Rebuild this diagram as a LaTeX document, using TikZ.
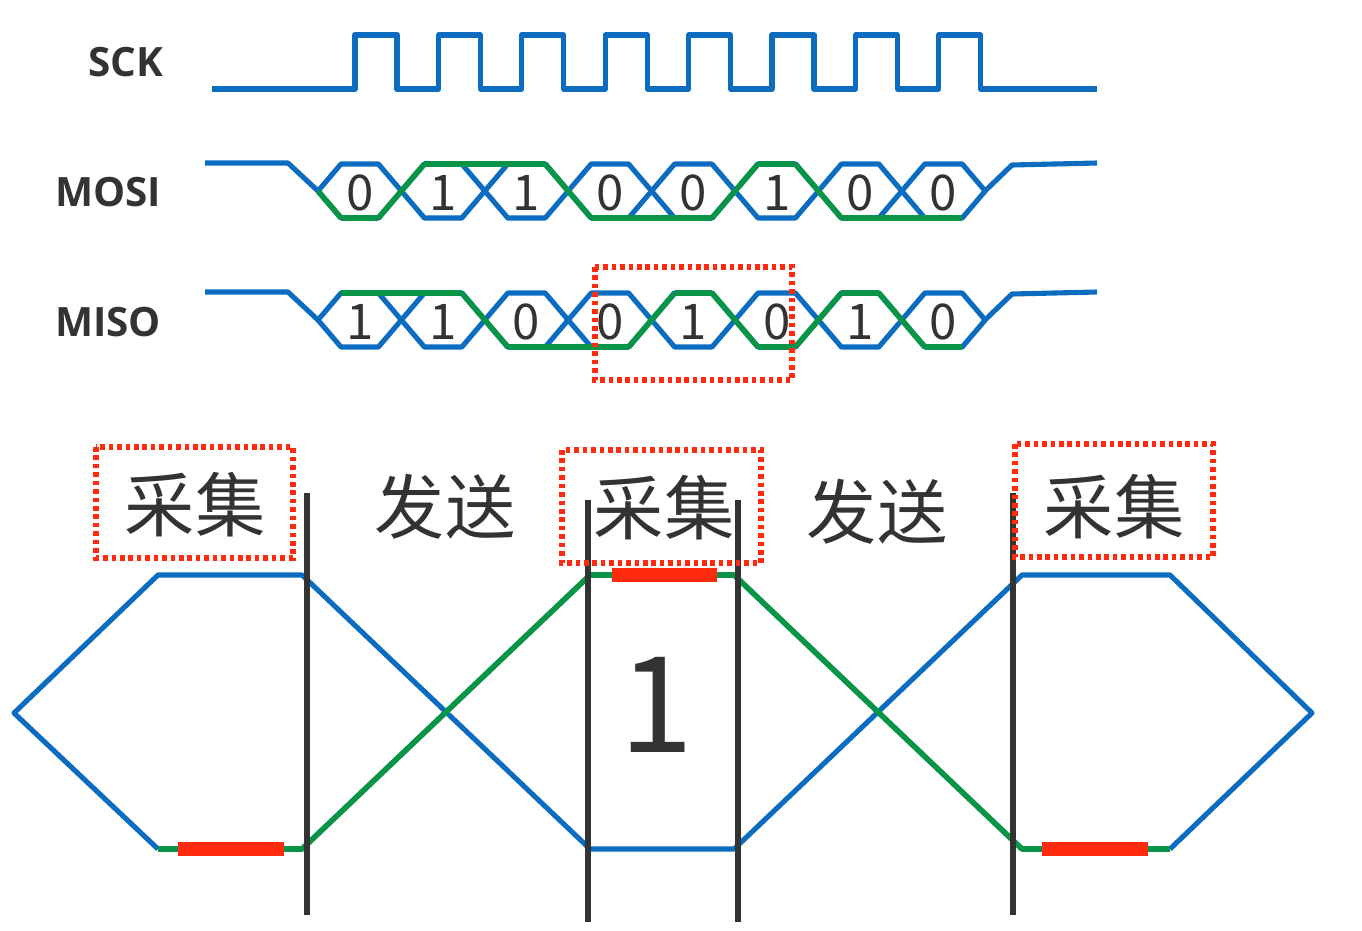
\documentclass[tikz,border=0pt]{standalone}
\usepackage{fontspec}
\setmainfont{Open Sans}
\newfontfamily\cjk{Noto Sans CJK SC}
\definecolor{wblue}{HTML}{0B6CC0}
\definecolor{wgreen}{HTML}{0A9448}
\definecolor{wred}{HTML}{FF2A10}
\definecolor{wgray}{HTML}{333333}
\tikzset{
  blue wave/.style={draw=wblue,line width=2.9pt,line join=round},
  green wave/.style={draw=wgreen,line width=3.2pt,line join=round},
  hold bar/.style={draw=wred,line width=7.5pt},
  sample box/.style={draw=wred,line width=3.2pt,dash pattern=on 2.6pt off 2.2pt},
  bar line/.style={draw=wgray,line width=3.2pt},
  sig label/.style={font=\bfseries\fontsize{23}{23}\selectfont,text=wgray},
  bit label/.style={font=\cjk\fontsize{28}{28}\selectfont,text=wgray},
  phase label/.style={font=\cjk\fontsize{40}{40}\selectfont,text=wgray}
}
% one data line: mid y, green start point, list of bits
\newcommand\datarow[3]{
  \foreach \b [count=\i from 0] in {#3} {
    \pgfmathsetmacro\cx{318+83.4*\i}
    \draw[blue wave] (\cx,#1) -- (\cx+23,#1-27) -- (\cx+60.4,#1-27) -- (\cx+83.4,#1)
      -- (\cx+60.4,#1+27) -- (\cx+23,#1+27) -- cycle;
  }
  \draw[blue wave] (205,#1-28) -- (288,#1-28) -- (318,#1);
  \draw[blue wave] (985,#1) -- (1012,#1-26) -- (1097,#1-28);
  \foreach \b [count=\i from 0, remember=\b as \p (initially 2)] in {#3} {
    \pgfmathsetmacro\cx{318+83.4*\i}
    \pgfmathsetmacro\lv{#1+27-54*\b}
    \ifnum\p<2
      \pgfmathsetmacro\lp{#1+27-54*\p}
      \draw[green wave] (\cx-23,\lp) -- (\cx+23,\lv);
    \else
      \draw[green wave] #2 -- (\cx+23,\lv);
    \fi
    \draw[green wave] (\cx+23,\lv) -- (\cx+60.4,\lv);
    \node[bit label] at (\cx+41.7,#1+2) {\b};
  }
}

\begin{document}
\begin{tikzpicture}[x=0.02cm,y=-0.02cm]
  \useasboundingbox (0,0) rectangle (1362,930);

  % signal names
  \node[sig label] (sck)  at (126,62)  {SCK};
  \node[sig label] (mosi) at (108,192) {MOSI};
  \node[sig label] (miso) at (108,322) {MISO};

  % clock
  \draw[blue wave] (212,89) -- (355,89)
    \foreach \k in {0,...,7} { -- (355+83.4*\k,89) -- (355+83.4*\k,35) -- (397+83.4*\k,35) -- (397+83.4*\k,89) }
    -- (1097,89);

  \datarow{191}{(318,191)}{0,1,1,0,0,1,0,0}
  \datarow{320}{(341,293)}{1,1,0,0,1,0,1,0}

  \draw[sample box] (595,267) rectangle (792,380);

  % enlarged eye
  \draw[blue wave] (158,849) -- (14,713) -- (158,575) -- (302,575) -- (590,849) -- (734,849)
    -- (1022,575) -- (1170,575) -- (1312,713) -- (1170,849);
  \draw[green wave] (158,849) -- (302,849) -- (590,575) -- (734,575) -- (1022,849) -- (1170,849);
  \draw[hold bar] (178,849) -- (284,849);
  \draw[hold bar] (612,575) -- (717,575);
  \draw[hold bar] (1042,849) -- (1148,849);

  \foreach \x/\t/\b in {307/493/915, 588/500/922, 738/500/922, 1013/493/915}
    \draw[bar line] (\x,\t) -- (\x,\b);

  \node[phase label] (cap1)  at (195,505)  {采集};
  \node[phase label] (send1) at (445,507)  {发送};
  \node[phase label] (cap2)  at (664,508)  {采集};
  \node[phase label] (send2) at (877,512)  {发送};
  \node[phase label] (cap3)  at (1114,507) {采集};
  \draw[sample box] (96,447) rectangle (293,558);
  \draw[sample box] (562,450) rectangle (761,563);
  \draw[sample box] (1015,444) rectangle (1213,557);

  \node[font=\cjk\fontsize{76}{76}\selectfont,text=wgray] (bit) at (657,705) {1};
\end{tikzpicture}
\end{document}
